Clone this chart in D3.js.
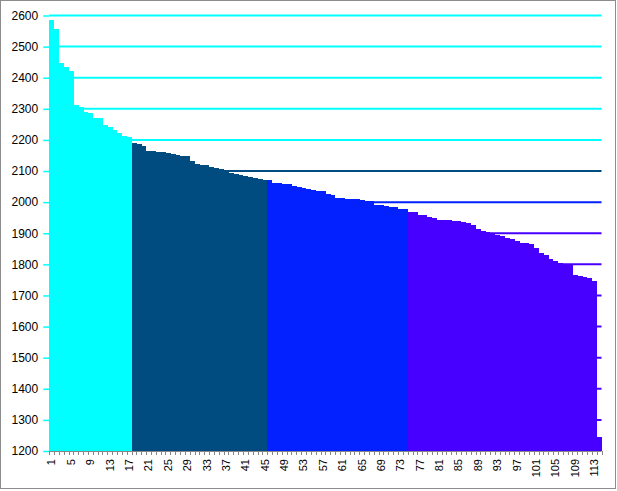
<!DOCTYPE html>
<html>
<head>
<meta charset="utf-8">
<script src="https://cdn.jsdelivr.net/npm/d3@7/dist/d3.min.js"></script>
<style>
  html, body { margin: 0; padding: 0; background: #fff; }
  svg { display: block; }
  text { font-family: "Liberation Sans", Arial, sans-serif; fill: #000; }
</style>
</head>
<body>
<svg id="chart" width="617" height="491"></svg>
<script>
// ---- data ----
const cyanValues = [2585, 2558, 2447, 2433, 2423, 2312, 2306, 2289, 2286, 2271, 2269, 2248, 2241, 2232, 2222, 2213, 2210];
const navyValues = [2191, 2188, 2182, 2164, 2163, 2162, 2161, 2157, 2156, 2150, 2149, 2147, 2131, 2122, 2120, 2118, 2114, 2111, 2107, 2104, 2095, 2090, 2086, 2083, 2080, 2077, 2074, 2072];
const blueValues = [2070, 2063, 2061, 2058, 2057, 2053, 2048, 2044, 2043, 2040, 2037, 2036, 2025, 2022, 2014, 2012, 2011, 2010, 2010, 2007, 2005, 2003, 1991, 1990, 1988, 1985, 1983, 1979, 1977];
const purpleValues = [1968, 1967, 1960, 1958, 1952, 1950, 1944, 1943, 1942, 1940, 1938, 1936, 1933, 1926, 1915, 1908, 1903, 1898, 1895, 1890, 1886, 1881, 1875, 1870, 1868, 1865, 1852, 1838, 1831, 1816, 1812, 1804, 1798, 1797, 1767, 1764, 1760, 1757, 1747, 1244];
const seriesColors = ["#00FFFF", "#004C80", "#0320FF", "#4700FF"];
const yTicks = [1200, 1300, 1400, 1500, 1600, 1700, 1800, 1900, 2000, 2100, 2200, 2300, 2400, 2500, 2600];
const gridColors = [null, "#4700FF", "#4700FF", "#4700FF", "#4700FF", "#4700FF", "#4700FF", "#4700FF", "#0320FF", "#004C80", "#00FFFF", "#00FFFF", "#00FFFF", "#00FFFF", "#00FFFF"];
const xTickLabels = ["1","5","9","13","17","21","25","29","33","37","41","45","49","53","57","61","65","69","73","77","81","85","89","93","97","101","105","109","113"];

(function () {
// ---- build ----
const allSeries = [cyanValues, navyValues, blueValues, purpleValues];
const bars = [];
let idx = 1;
allSeries.forEach((vals, s) => {
  vals.forEach(v => { bars.push({cat: String(idx), value: v, color: seriesColors[s]}); idx++; });
});
const categories = bars.map(d => d.cat);

const svg = d3.select("#chart");
const pLeft = 49.2, pRight = 601.5, pTop = 15.5, pBottom = 451;

const x = d3.scaleBand().domain(categories).range([pLeft, pRight]).paddingInner(0).paddingOuter(0);
const y = d3.scaleLinear().domain([1200, 2600]).range([pBottom, pTop]);

// border
svg.append("rect").attr("x", 0.5).attr("y", 0.5).attr("width", 615).attr("height", 488)
  .attr("fill", "#fff").attr("stroke", "#8c8c8c").attr("stroke-width", 1);

// gridlines
svg.append("g").selectAll("line")
  .data(yTicks.map((t, i) => ({t, c: gridColors[i]})).filter(d => d.c))
  .join("line")
  .attr("x1", pLeft).attr("x2", pRight)
  .attr("y1", d => y(d.t)).attr("y2", d => y(d.t))
  .attr("stroke", d => d.c).attr("stroke-width", 2);

// bars
svg.append("g").selectAll("rect")
  .data(bars)
  .join("rect")
  .attr("x", d => x(d.cat))
  .attr("width", x.bandwidth() + 0.4)
  .attr("y", d => y(d.value))
  .attr("height", d => pBottom - y(d.value))
  .attr("fill", d => d.color)
  .attr("shape-rendering", "crispEdges");

// y axis
const yAxis = d3.axisLeft(y).tickValues(yTicks).tickSize(6).tickPadding(6).tickFormat(d3.format("d"));
const gy = svg.append("g").attr("transform", `translate(${pLeft},0)`).call(yAxis);
gy.select(".domain").remove();
gy.selectAll(".tick line").attr("stroke", "#00FFFF").attr("stroke-width", 1.5);
gy.selectAll(".tick text").style("font-size", "12px").attr("x", -11);

// x axis
const xAxis = d3.axisBottom(x).tickValues(xTickLabels).tickSize(0).tickPadding(0);
const gx = svg.append("g").attr("transform", `translate(0,${pBottom})`).call(xAxis);
gx.select(".domain").remove();
gx.selectAll(".tick text")
  .style("font-size", "11px")
  .attr("text-anchor", "end")
  .attr("transform", "rotate(-90)")
  .attr("x", -8).attr("y", 0).attr("dy", "0.35em");

// minor ticks at every bar boundary
const boundaries = categories.map(c => x(c)).concat([pRight]);
svg.append("g").selectAll("line").data(boundaries).join("line")
  .attr("x1", d => Math.round(d) + 0.5).attr("x2", d => Math.round(d) + 0.5)
  .attr("y1", pBottom).attr("y2", pBottom + 4)
  .attr("stroke", "#868686").attr("stroke-width", 1);
svg.append("line").attr("x1", pLeft).attr("x2", pRight).attr("y1", pBottom + 0.5).attr("y2", pBottom + 0.5)
  .attr("stroke", "#868686").attr("stroke-width", 1);
})();
</script>
</body>
</html>
